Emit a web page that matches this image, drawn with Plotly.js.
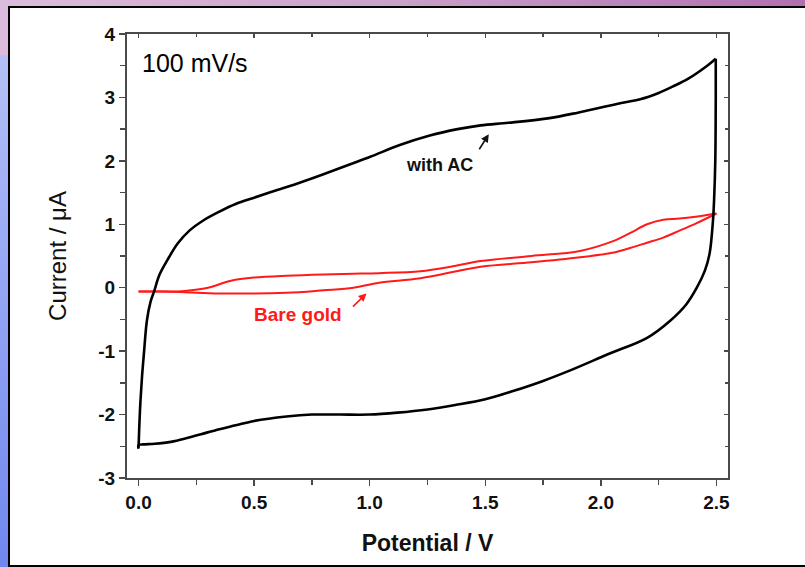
<!DOCTYPE html>
<html>
<head>
<meta charset="utf-8">
<script src="https://cdn.plot.ly/plotly-3.0.1.min.js"></script>
<style>
  html, body { margin: 0; padding: 0; }
  #stage {
    position: relative; width: 805px; height: 567px; overflow: hidden;
    background: linear-gradient(90deg, #dcbcdc 0%, #c8a0c8 50%, #b070b0 100%);
  }
  #leftband {
    position: absolute; left: 0; top: 55px; width: 40px; height: 512px;
    border-top-right-radius: 30px;
    background: linear-gradient(180deg, #b4c0f6 0%, #98a8f4 40%, #7088ee 100%);
  }
  #panel {
    position: absolute; left: 8px; top: 6px; width: 805px; height: 557px;
    background: #ffffff; border: 2px solid #000000;
  }
  #chart { position: absolute; left: 0; top: 0; width: 805px; height: 567px; }
</style>
</head>
<body>
<div id="stage">
  <div id="leftband"></div>
  <div id="panel"></div>
  <div id="chart"></div>
</div>
<script>
// Electrode with activated carbon: anodic sweep 0 V -> 2.5 V
const acFwdPotential = [
  0.000, 0.003, 0.008, 0.015, 0.024, 0.036, 0.052, 0.068, 0.090, 0.127, 0.170, 0.220,
  0.280, 0.350, 0.420, 0.500, 0.600, 0.700, 0.800, 0.910, 1.000, 1.130, 1.260, 1.380,
  1.480, 1.600, 1.770, 1.900, 2.000, 2.100, 2.170, 2.250, 2.310, 2.380, 2.460, 2.497
];
const acFwdCurrent = [
  -2.52, -2.20, -1.80, -1.40, -1.00, -0.52, -0.22, -0.05, 0.20, 0.45, 0.70, 0.90,
  1.06, 1.20, 1.32, 1.42, 1.54, 1.66, 1.79, 1.94, 2.06, 2.25, 2.40, 2.50,
  2.56, 2.60, 2.67, 2.76, 2.84, 2.92, 2.97, 3.07, 3.17, 3.30, 3.50, 3.61
];
// Electrode with activated carbon: cathodic sweep 2.5 V -> 0 V
const acRevPotential = [
  2.497, 2.497, 2.495, 2.490, 2.485, 2.470, 2.450, 2.415, 2.370, 2.300, 2.200, 2.030,
  1.870, 1.750, 1.620, 1.500, 1.370, 1.250, 1.120, 1.000, 0.870, 0.750, 0.640, 0.500,
  0.420, 0.350, 0.270, 0.210, 0.140, 0.070, 0.020, 0.000, 0.000
];
const acRevCurrent = [
  3.61, 3.00, 2.00, 1.40, 1.06, 0.53, 0.27, 0.00, -0.26, -0.52, -0.79, -1.05,
  -1.30, -1.47, -1.63, -1.76, -1.85, -1.92, -1.97, -2.00, -2.00, -2.00, -2.03, -2.10,
  -2.17, -2.23, -2.31, -2.37, -2.43, -2.46, -2.47, -2.48, -2.54
];

// Bare gold electrode: anodic sweep
const goldFwdPotential = [
  0.00, 0.10, 0.20, 0.30, 0.40, 0.50, 0.64, 0.80, 0.93, 1.04, 1.22, 1.35,
  1.48, 1.70, 1.91, 2.05, 2.13, 2.20, 2.27, 2.34, 2.41, 2.50
];
const goldFwdCurrent = [
  -0.06, -0.06, -0.05, 0.00, 0.11, 0.16, 0.19, 0.21, 0.22, 0.23, 0.26, 0.33,
  0.42, 0.50, 0.58, 0.73, 0.87, 1.00, 1.07, 1.09, 1.12, 1.17
];
// Bare gold electrode: cathodic sweep
const goldRevPotential = [
  2.50, 2.41, 2.34, 2.27, 2.20, 2.13, 2.05, 1.91, 1.70, 1.48, 1.22, 1.04, 0.93,
  0.80, 0.64, 0.35, 0.20, 0.10, 0.00
];
const goldRevCurrent = [
  1.17, 1.01, 0.90, 0.79, 0.71, 0.63, 0.55, 0.48, 0.40, 0.33, 0.15, 0.08, 0.00,
  -0.04, -0.08, -0.09, -0.07, -0.06, -0.06
];

const xTickVals = [0, 0.5, 1.0, 1.5, 2.0, 2.5];
const xTickText = ['0.0', '0.5', '1.0', '1.5', '2.0', '2.5'];
const yTickVals = [-3, -2, -1, 0, 1, 2, 3, 4];
const yTickText = ['-3', '-2', '-1', '0', '1', '2', '3', '4'];

const FONT = '"Liberation Sans", Arial, Helvetica, sans-serif';
const AXIS_COLOR = '#4a4a4a';
const RED = '#ff1a1a';

function branch(x, y, color, width) {
  return {
    x: x, y: y, mode: 'lines', type: 'scatter',
    line: { color: color, width: width, shape: 'spline', smoothing: 1 },
    hoverinfo: 'skip', showlegend: false
  };
}

const traces = [
  branch(goldFwdPotential, goldFwdCurrent, RED, 2),
  branch(goldRevPotential, goldRevCurrent, RED, 2),
  branch(acFwdPotential, acFwdCurrent, '#000000', 2.6),
  branch(acRevPotential, acRevCurrent, '#000000', 2.6),
  // carries the top/right frame axes
  { x: [], y: [], xaxis: 'x2', yaxis: 'y2', type: 'scatter', mode: 'lines',
    hoverinfo: 'skip', showlegend: false }
];

const xRange = [-0.05, 2.55];
const yRange = [-3, 4];

const layout = {
  width: 805, height: 567,
  margin: { l: 127, r: 77, t: 34, b: 89 },
  paper_bgcolor: 'rgba(0,0,0,0)',
  plot_bgcolor: '#ffffff',
  font: { family: FONT, color: '#000000' },
  xaxis: {
    range: xRange, tickmode: 'array', tickvals: xTickVals, ticktext: xTickText,
    showgrid: false, zeroline: false, showline: true, linecolor: AXIS_COLOR, linewidth: 2,
    ticks: 'outside', ticklen: 6, tickwidth: 1.5, tickcolor: AXIS_COLOR,
    minor: { dtick: 0.25, tick0: 0, ticks: 'outside', ticklen: 5, tickwidth: 1.5, tickcolor: AXIS_COLOR },
    tickfont: { family: FONT, size: 19, weight: 'bold', color: '#111' },
    title: { text: '<b>Potential / V</b>', font: { family: FONT, size: 23, color: '#111' }, standoff: 23 },
    automargin: false
  },
  yaxis: {
    range: yRange, tickmode: 'array', tickvals: yTickVals, ticktext: yTickText,
    showgrid: false, zeroline: false, showline: true, linecolor: AXIS_COLOR, linewidth: 2,
    ticks: 'outside', ticklen: 6, tickwidth: 1.5, tickcolor: AXIS_COLOR,
    minor: { dtick: 0.5, tick0: 0, ticks: 'outside', ticklen: 5, tickwidth: 1.5, tickcolor: AXIS_COLOR },
    tickfont: { family: FONT, size: 19, weight: 'bold', color: '#111' },
    title: { text: 'Current / μA', font: { family: FONT, size: 24, color: '#111' }, standoff: 25 },
    automargin: false
  },
  xaxis2: {
    overlaying: 'x', side: 'top', anchor: 'y2', range: xRange,
    showgrid: false, zeroline: false, showline: true, linecolor: AXIS_COLOR, linewidth: 2,
    showticklabels: false, tickmode: 'array', tickvals: xTickVals,
    ticks: 'inside', ticklen: 4, tickwidth: 1.5, tickcolor: AXIS_COLOR,
    minor: { dtick: 0.25, tick0: 0, ticks: 'inside', ticklen: 3, tickwidth: 1.5, tickcolor: AXIS_COLOR }
  },
  yaxis2: {
    overlaying: 'y', side: 'right', anchor: 'x2', range: yRange,
    showgrid: false, zeroline: false, showline: true, linecolor: AXIS_COLOR, linewidth: 2,
    showticklabels: false, tickmode: 'array', tickvals: yTickVals,
    ticks: 'inside', ticklen: 4, tickwidth: 1.5, tickcolor: AXIS_COLOR,
    minor: { dtick: 0.5, tick0: 0, ticks: 'inside', ticklen: 3, tickwidth: 1.5, tickcolor: AXIS_COLOR }
  },
  annotations: [
    { x: 0.007, y: 3.54, xref: 'x', yref: 'y', text: '100 mV/s', showarrow: false,
      xanchor: 'left', yanchor: 'middle', font: { family: FONT, size: 25, color: '#000' } },
    { x: 1.304, y: 1.93, xref: 'x', yref: 'y', text: '<b>with AC</b>', showarrow: false,
      xanchor: 'center', yanchor: 'middle', font: { family: FONT, size: 18, color: '#111' } },
    { x: 1.515, y: 2.42, ax: 1.47, ay: 2.16, xref: 'x', yref: 'y', axref: 'x', ayref: 'y',
      text: '', showarrow: true, arrowhead: 2, arrowsize: 1, arrowwidth: 1.6, arrowcolor: '#111' },
    { x: 0.69, y: -0.425, xref: 'x', yref: 'y', text: '<b>Bare gold</b>', showarrow: false,
      xanchor: 'center', yanchor: 'middle', font: { family: FONT, size: 19, color: RED } },
    { x: 0.986, y: -0.09, ax: 0.921, ay: -0.32, xref: 'x', yref: 'y', axref: 'x', ayref: 'y',
      text: '', showarrow: true, arrowhead: 2, arrowsize: 1, arrowwidth: 1.6, arrowcolor: RED }
  ]
};

Plotly.newPlot('chart', traces, layout, { displayModeBar: false, staticPlot: true });
</script>
</body>
</html>
